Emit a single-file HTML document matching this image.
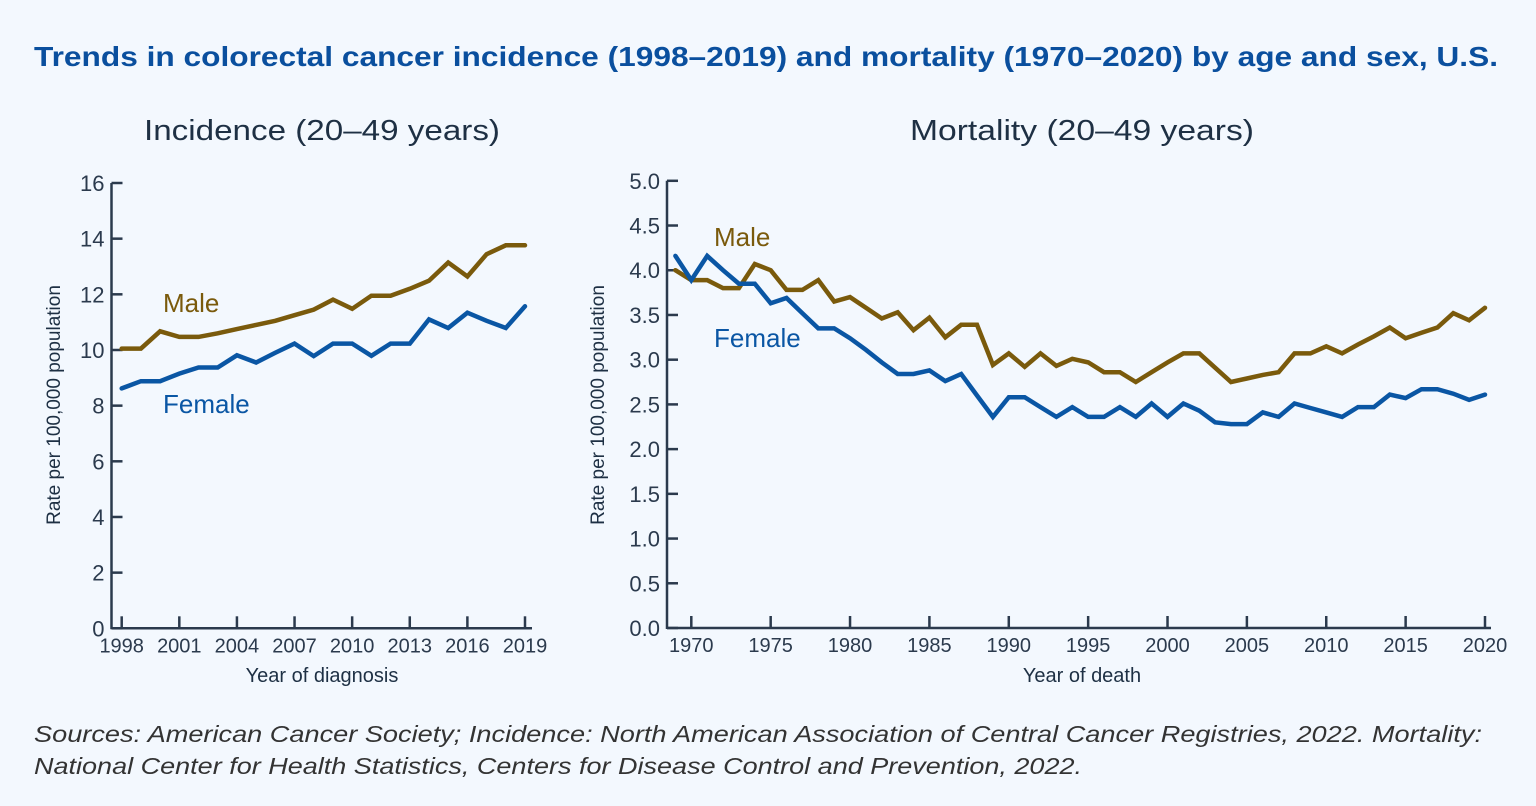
<!DOCTYPE html>
<html><head><meta charset="utf-8"><style>
html,body{margin:0;padding:0;background:#f3f8fe;}
svg{display:block;font-family:"Liberation Sans",sans-serif;}
</style></head><body>
<svg id="c" width="1536" height="806" viewBox="0 0 1536 806">
<rect width="1536" height="806" fill="#f3f8fe"/>
<text x="34" y="66" font-size="28" font-weight="bold" fill="#0a4f9e" textLength="1464" lengthAdjust="spacingAndGlyphs">Trends in colorectal cancer incidence (1998–2019) and mortality (1970–2020) by age and sex, U.S.</text>
<text x="322" y="140" font-size="29" fill="#1e3044" text-anchor="middle" textLength="356" lengthAdjust="spacingAndGlyphs">Incidence (20–49 years)</text>
<text x="1082" y="140" font-size="29" fill="#1e3044" text-anchor="middle" textLength="344" lengthAdjust="spacingAndGlyphs">Mortality (20–49 years)</text>
<g id="left"></g>
<g id="right"></g>
<text x="34" y="742" font-size="23" font-style="italic" fill="#333" textLength="1448" lengthAdjust="spacingAndGlyphs">Sources: American Cancer Society; Incidence: North American Association of Central Cancer Registries, 2022. Mortality:</text>
<text x="34" y="774" font-size="23" font-style="italic" fill="#333" textLength="1048" lengthAdjust="spacingAndGlyphs">National Center for Health Statistics, Centers for Disease Control and Prevention, 2022.</text>
</svg>
<script>
const incYears = [1998,1999,2000,2001,2002,2003,2004,2005,2006,2007,2008,2009,2010,2011,2012,2013,2014,2015,2016,2017,2018,2019];
const incMale = [10.05,10.05,10.67,10.47,10.47,10.6,10.75,10.9,11.05,11.25,11.45,11.81,11.48,11.95,11.95,12.2,12.49,13.14,12.64,13.44,13.76,13.76];
const incFemale = [8.62,8.88,8.88,9.15,9.37,9.37,9.81,9.55,9.9,10.23,9.78,10.23,10.23,9.79,10.23,10.23,11.1,10.79,11.34,11.05,10.79,11.57];
const incYTicks = [0,2,4,6,8,10,12,14,16];
const incXTicks = [1998,2001,2004,2007,2010,2013,2016,2019];

const morYears = [1969,1970,1971,1972,1973,1974,1975,1976,1977,1978,1979,1980,1981,1982,1983,1984,1985,1986,1987,1988,1989,1990,1991,1992,1993,1994,1995,1996,1997,1998,1999,2000,2001,2002,2003,2004,2005,2006,2007,2008,2009,2010,2011,2012,2013,2014,2015,2016,2017,2018,2019,2020];
const morMale = [4.0,3.89,3.89,3.8,3.8,4.07,4.0,3.78,3.78,3.89,3.65,3.7,3.58,3.46,3.53,3.33,3.47,3.25,3.39,3.39,2.94,3.07,2.92,3.07,2.93,3.01,2.97,2.86,2.86,2.75,2.86,2.97,3.07,3.07,2.91,2.75,2.79,2.83,2.86,3.07,3.07,3.15,3.07,3.17,3.26,3.36,3.24,3.3,3.36,3.52,3.44,3.58];
const morFemale = [4.16,3.89,4.16,4.0,3.85,3.85,3.63,3.69,3.52,3.35,3.35,3.24,3.11,2.97,2.84,2.84,2.88,2.76,2.84,2.6,2.36,2.58,2.58,2.47,2.36,2.47,2.36,2.36,2.47,2.36,2.51,2.36,2.51,2.43,2.3,2.28,2.28,2.41,2.36,2.51,2.46,2.41,2.36,2.47,2.47,2.61,2.57,2.67,2.67,2.62,2.55,2.61];
const morYTicks = [0,0.5,1,1.5,2,2.5,3,3.5,4,4.5,5];
const morXTicks = [1970,1975,1980,1985,1990,1995,2000,2005,2010,2015,2020];

const NS='http://www.w3.org/2000/svg';
const AX='#2b3a4d', MALE='#7a5a0c', FEMALE='#0a56a4';
function mk(parent,tag,attrs,text){const e=document.createElementNS(NS,tag);for(const k in attrs)e.setAttribute(k,attrs[k]);if(text!==undefined)e.textContent=text;parent.appendChild(e);return e;}

function draw(g,cfg){
  const sx=v=>cfg.x0+(v-cfg.xmin)/(cfg.xmax-cfg.xmin)*(cfg.x1-cfg.x0);
  const sy=v=>cfg.yb-(v-cfg.ymin)/(cfg.ymax-cfg.ymin)*(cfg.yb-cfg.yt);
  const ya=mk(g,'line',{x1:cfg.ax,y1:cfg.yt,x2:cfg.ax,y2:cfg.yb+1,stroke:AX,'stroke-width':2.5});
  
  
  const xa=mk(g,'line',{x1:cfg.ax,y1:cfg.yb,x2:cfg.xaEnd,y2:cfg.yb,stroke:AX,'stroke-width':2.5});
  
  
  cfg.yTicks.forEach(v=>{
    const y=sy(v);
    const t=mk(g,'line',{x1:cfg.ax,y1:y,x2:cfg.ax+11,y2:y,stroke:AX,'stroke-width':2.5});
    
    
    const l=mk(g,'text',{x:cfg.ax-7,y:y+8,'font-size':22,fill:'#2b3a4d','text-anchor':'end'},cfg.yfmt(v));
    
    
  });
  cfg.xTicks.forEach(v=>{
    const x=sx(v);
    const t=mk(g,'line',{x1:x,y1:cfg.yb,x2:x,y2:cfg.yb-12,stroke:AX,'stroke-width':2.5});
    
    
    const l=mk(g,'text',{x:x,y:cfg.yb+24,'font-size':20,fill:'#2b3a4d','text-anchor':'middle'},String(v));
    
    
  });
  const xt=mk(g,'text',{x:cfg.xtX,y:682,'font-size':20,fill:'#1e3044','text-anchor':'middle'},cfg.xtitle);
  
  
  const yt=mk(g,'text',{x:0,y:0,'font-size':19,fill:'#1e3044','text-anchor':'middle',transform:`translate(${cfg.ytX},405) rotate(-90)`},'Rate per 100,000 population');
  
  
  [[cfg.male,MALE,'male-line'],[cfg.female,FEMALE,'female-line']].forEach(([vals,col,name])=>{
    const d=vals.map((v,i)=>(i?'L':'M')+sx(cfg.years[i]).toFixed(1)+','+sy(v).toFixed(1)).join(' ');
    const p=mk(g,'path',{d:d,fill:'none',stroke:col,'stroke-width':4.5,'stroke-linejoin':'miter','stroke-linecap':'round'});
    
    
  });
  const ml=mk(g,'text',{x:cfg.lblX,y:cfg.maleY,'font-size':26,fill:MALE},'Male');
  
  
  const fl=mk(g,'text',{x:cfg.lblX,y:cfg.femY,'font-size':26,fill:FEMALE},'Female');
  
  
}
draw(document.getElementById('left'),{x0:121.7,x1:525,xmin:1998,xmax:2019,yb:628.3,yt:183,ymin:0,ymax:16,ax:111.5,xaEnd:532,
  years:incYears,male:incMale,female:incFemale,yTicks:incYTicks,xTicks:incXTicks,yfmt:v=>String(v),
  xtitle:'Year of diagnosis',xtX:322,ytX:60,lblX:163,maleY:312,femY:413});
draw(document.getElementById('right'),{x0:691.3,x1:1485,xmin:1970,xmax:2020,yb:628,yt:180.8,ymin:0,ymax:5,ax:667,xaEnd:1491,
  years:morYears,male:morMale,female:morFemale,yTicks:morYTicks,xTicks:morXTicks,yfmt:v=>v.toFixed(1),
  xtitle:'Year of death',xtX:1082,ytX:604,lblX:714,maleY:246,femY:347});
</script>
</body></html>
